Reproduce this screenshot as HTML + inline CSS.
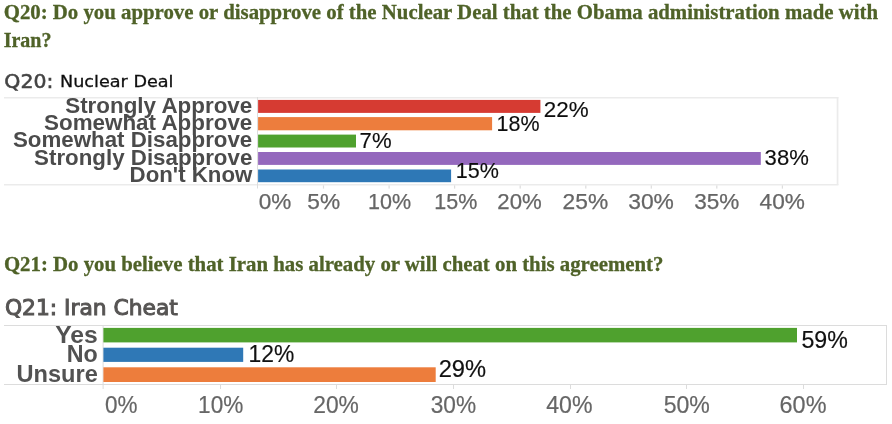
<!DOCTYPE html>
<html lang="en">
<head>
<meta charset="utf-8">
<title>Q20 / Q21 Poll Results</title>
<style>
html,body{margin:0;padding:0;background:#ffffff;}
body{width:892px;height:424px;overflow:hidden;}
svg{display:block;}
text{white-space:pre;}
.f-serif{font-family:"Liberation Serif",serif;}
.f-sans{font-family:"Liberation Sans",sans-serif;}
.f-dv{font-family:"DejaVu Sans","Liberation Sans",sans-serif;}
.b{font-weight:bold;}
</style>
</head>
<body>
<svg width="892" height="424" viewBox="0 0 892 424">
<defs><filter id="soft" x="0" y="0" width="892" height="424" filterUnits="userSpaceOnUse"><feGaussianBlur stdDeviation="0.45"/></filter></defs>
<rect x="0" y="0" width="892" height="424" fill="#ffffff"/>
<!-- question headings -->
<text class="f-serif b" x="3.7" y="18.6" font-size="21" fill="#4f6228" stroke="#4f6228" stroke-width="0.3" textLength="874.3" lengthAdjust="spacingAndGlyphs">Q20: Do you approve or disapprove of the Nuclear Deal that the Obama administration made with</text>
<text class="f-serif b" x="3.7" y="46.9" font-size="21" fill="#4f6228" stroke="#4f6228" stroke-width="0.3" textLength="47.8" lengthAdjust="spacingAndGlyphs">Iran?</text>
<text class="f-serif b" x="3.9" y="270.7" font-size="21" fill="#4f6228" stroke="#4f6228" stroke-width="0.3" textLength="659.5" lengthAdjust="spacingAndGlyphs">Q21: Do you believe that Iran has already or will cheat on this agreement?</text>
<!-- chart 1: Q20 Nuclear Deal -->
<g filter="url(#soft)">
<text class="f-dv" x="4.3" y="87.8" font-size="19.4" fill="#444444" stroke="#444444" stroke-width="0.55" textLength="49" lengthAdjust="spacingAndGlyphs">Q20:</text>
<text class="f-dv" x="60.0" y="86.6" font-size="16.1" fill="#111111" stroke="#111111" stroke-width="0.3" textLength="113.5" lengthAdjust="spacingAndGlyphs">Nuclear Deal</text>
<rect x="4" y="97" width="834.4" height="1.5" fill="#ebebeb"/>
<rect x="836.7" y="97" width="1.7" height="88" fill="#ebebeb"/>
<rect x="4" y="184" width="834.4" height="1.5" fill="#ebebeb"/>
<rect x="257" y="97" width="1" height="91.5" fill="#dddddd"/>
<rect x="258.1" y="99.9" width="282.3" height="13.0" fill="#d63a33"/>
<rect x="258.1" y="117.1" width="234.0" height="13.2" fill="#ed7d3c"/>
<rect x="258.1" y="134.6" width="97.9" height="12.9" fill="#4fa12e"/>
<rect x="258.1" y="152" width="502.7" height="12.9" fill="#9467bd"/>
<rect x="258.1" y="169.5" width="193.0" height="12.7" fill="#2f78b6"/>
<text class="f-sans b" x="65.2" y="113.0" font-size="21.3" fill="#4c4c4c" textLength="187.1" lengthAdjust="spacingAndGlyphs">Strongly Approve</text>
<text class="f-sans b" x="44.0" y="130.2" font-size="21.3" fill="#4c4c4c" textLength="208.3" lengthAdjust="spacingAndGlyphs">Somewhat Approve</text>
<text class="f-sans b" x="12.9" y="147.3" font-size="21.3" fill="#4c4c4c" textLength="239.4" lengthAdjust="spacingAndGlyphs">Somewhat Disapprove</text>
<text class="f-sans b" x="34.1" y="164.7" font-size="21.3" fill="#4c4c4c" textLength="218.2" lengthAdjust="spacingAndGlyphs">Strongly Disapprove</text>
<text class="f-sans b" x="129.6" y="182.1" font-size="21.3" fill="#4c4c4c" textLength="122.7" lengthAdjust="spacingAndGlyphs">Don't Know</text>
<text class="f-sans" x="543.8" y="117.4" font-size="21.2" fill="#111111" stroke="#111111" stroke-width="0.15" textLength="44.9" lengthAdjust="spacingAndGlyphs">22%</text>
<text class="f-sans" x="496.6" y="131.0" font-size="21.2" fill="#111111" stroke="#111111" stroke-width="0.15" textLength="43.0" lengthAdjust="spacingAndGlyphs">18%</text>
<text class="f-sans" x="359.6" y="147.5" font-size="21.2" fill="#111111" stroke="#111111" stroke-width="0.15" textLength="32.0" lengthAdjust="spacingAndGlyphs">7%</text>
<text class="f-sans" x="764.6" y="165.1" font-size="21.2" fill="#111111" stroke="#111111" stroke-width="0.15" textLength="44.2" lengthAdjust="spacingAndGlyphs">38%</text>
<text class="f-sans" x="455.8" y="177.7" font-size="21.2" fill="#111111" stroke="#111111" stroke-width="0.15" textLength="43.1" lengthAdjust="spacingAndGlyphs">15%</text>
<rect x="322.9" y="185.4" width="1.2" height="3.2" fill="#dddddd"/>
<rect x="388.5" y="185.4" width="1.2" height="3.2" fill="#dddddd"/>
<rect x="454.0" y="185.4" width="1.2" height="3.2" fill="#dddddd"/>
<rect x="519.6" y="185.4" width="1.2" height="3.2" fill="#dddddd"/>
<rect x="585.2" y="185.4" width="1.2" height="3.2" fill="#dddddd"/>
<rect x="650.7" y="185.4" width="1.2" height="3.2" fill="#dddddd"/>
<rect x="716.2" y="185.4" width="1.2" height="3.2" fill="#dddddd"/>
<rect x="781.8" y="185.4" width="1.2" height="3.2" fill="#dddddd"/>
<text class="f-sans" x="258.7" y="209.3" font-size="21.5" fill="#666666" stroke="#666666" stroke-width="0.25" textLength="32.6" lengthAdjust="spacingAndGlyphs">0%</text>
<text class="f-sans" x="307.3" y="209.3" font-size="21.5" fill="#666666" stroke="#666666" stroke-width="0.25" textLength="32.8" lengthAdjust="spacingAndGlyphs">5%</text>
<text class="f-sans" x="368.1" y="209.3" font-size="21.5" fill="#666666" stroke="#666666" stroke-width="0.25" textLength="43.1" lengthAdjust="spacingAndGlyphs">10%</text>
<text class="f-sans" x="434.3" y="209.3" font-size="21.5" fill="#666666" stroke="#666666" stroke-width="0.25" textLength="43.0" lengthAdjust="spacingAndGlyphs">15%</text>
<text class="f-sans" x="497.3" y="209.3" font-size="21.5" fill="#666666" stroke="#666666" stroke-width="0.25" textLength="44.4" lengthAdjust="spacingAndGlyphs">20%</text>
<text class="f-sans" x="562.6" y="209.3" font-size="21.5" fill="#666666" stroke="#666666" stroke-width="0.25" textLength="45.6" lengthAdjust="spacingAndGlyphs">25%</text>
<text class="f-sans" x="628.2" y="209.3" font-size="21.5" fill="#666666" stroke="#666666" stroke-width="0.25" textLength="45.7" lengthAdjust="spacingAndGlyphs">30%</text>
<text class="f-sans" x="694.3" y="209.3" font-size="21.5" fill="#666666" stroke="#666666" stroke-width="0.25" textLength="45.1" lengthAdjust="spacingAndGlyphs">35%</text>
<text class="f-sans" x="759.6" y="209.3" font-size="21.5" fill="#666666" stroke="#666666" stroke-width="0.25" textLength="45.3" lengthAdjust="spacingAndGlyphs">40%</text>
</g>
<!-- chart 2: Q21 Iran Cheat -->
<text class="f-dv" x="4.9" y="314.6" font-size="21.6" fill="#565453" stroke="#565453" stroke-width="1.0" textLength="173" lengthAdjust="spacingAndGlyphs">Q21: Iran Cheat</text>
<rect x="4" y="325" width="883" height="1" fill="#dcdcdc"/>
<rect x="886" y="325" width="1" height="60" fill="#dcdcdc"/>
<rect x="4" y="384" width="883" height="1" fill="#dcdcdc"/>
<rect x="102.6" y="325" width="1" height="64" fill="#dcdcdc"/>
<rect x="103.4" y="327.9" width="693.6" height="14.5" fill="#4fa12e"/>
<rect x="103.4" y="347.7" width="139.8" height="14.2" fill="#2f78b6"/>
<rect x="103.4" y="367.3" width="332.3" height="14.7" fill="#ed7d3c"/>
<text class="f-sans b" x="55.2" y="342.6" font-size="23.4" fill="#525252" textLength="42.6" lengthAdjust="spacingAndGlyphs">Yes</text>
<text class="f-sans b" x="66.8" y="361.8" font-size="23.4" fill="#525252" textLength="31.0" lengthAdjust="spacingAndGlyphs">No</text>
<text class="f-sans b" x="16.5" y="381.9" font-size="23.4" fill="#525252" textLength="81.3" lengthAdjust="spacingAndGlyphs">Unsure</text>
<text class="f-sans" x="248.6" y="362.2" font-size="24.6" fill="#111111" stroke="#111111" stroke-width="0.2" textLength="45.7" lengthAdjust="spacingAndGlyphs">12%</text>
<text class="f-sans" x="438.7" y="376.8" font-size="24.6" fill="#111111" stroke="#111111" stroke-width="0.2" textLength="47.4" lengthAdjust="spacingAndGlyphs">29%</text>
<text class="f-sans" x="801.4" y="347.8" font-size="24.6" fill="#111111" stroke="#111111" stroke-width="0.2" textLength="46.4" lengthAdjust="spacingAndGlyphs">59%</text>
<rect x="220" y="385" width="1" height="4" fill="#dcdcdc"/>
<rect x="336" y="385" width="1" height="4" fill="#dcdcdc"/>
<rect x="453" y="385" width="1" height="4" fill="#dcdcdc"/>
<rect x="570" y="385" width="1" height="4" fill="#dcdcdc"/>
<rect x="686" y="385" width="1" height="4" fill="#dcdcdc"/>
<rect x="803" y="385" width="1" height="4" fill="#dcdcdc"/>
<text class="f-sans" x="104.9" y="412.5" font-size="24.6" fill="#666666" stroke="#666666" stroke-width="0.2" textLength="32.5" lengthAdjust="spacingAndGlyphs">0%</text>
<text class="f-sans" x="198.1" y="412.5" font-size="24.6" fill="#666666" stroke="#666666" stroke-width="0.2" textLength="45.2" lengthAdjust="spacingAndGlyphs">10%</text>
<text class="f-sans" x="313.2" y="412.5" font-size="24.6" fill="#666666" stroke="#666666" stroke-width="0.2" textLength="45.7" lengthAdjust="spacingAndGlyphs">20%</text>
<text class="f-sans" x="430.7" y="412.5" font-size="24.6" fill="#666666" stroke="#666666" stroke-width="0.2" textLength="45.4" lengthAdjust="spacingAndGlyphs">30%</text>
<text class="f-sans" x="546.2" y="412.5" font-size="24.6" fill="#666666" stroke="#666666" stroke-width="0.2" textLength="46.3" lengthAdjust="spacingAndGlyphs">40%</text>
<text class="f-sans" x="663.7" y="412.5" font-size="24.6" fill="#666666" stroke="#666666" stroke-width="0.2" textLength="46.2" lengthAdjust="spacingAndGlyphs">50%</text>
<text class="f-sans" x="779.6" y="412.5" font-size="24.6" fill="#666666" stroke="#666666" stroke-width="0.2" textLength="46.9" lengthAdjust="spacingAndGlyphs">60%</text>
</svg>
</body>
</html>
